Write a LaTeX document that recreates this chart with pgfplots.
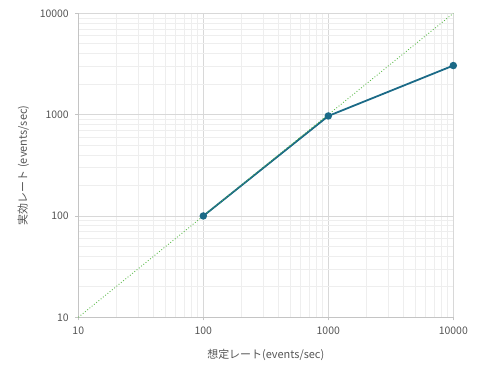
\documentclass[border=0pt]{standalone}
\usepackage{pgfplots}
\pgfplotsset{compat=1.18}
\usepackage{fontspec}
\setmainfont{Noto Sans CJK JP}
\definecolor{linec}{HTML}{1B6A87}
\definecolor{diagc}{HTML}{5DBB4C}
\definecolor{axc}{HTML}{C4C4C4}
\definecolor{majg}{HTML}{D8D8D8}
\definecolor{ming}{HTML}{EEEEEE}
\definecolor{txt}{HTML}{555555}
\begin{document}
\begin{tikzpicture}
\path[use as bounding box] (0,0) rectangle (480bp,376bp);
\begin{axis}[
  at={(78.3bp,58.7bp)}, anchor=south west,
  scale only axis, width=375bp, height=304bp,
  xmode=log, ymode=log,
  xmin=10, xmax=10000, ymin=10, ymax=10000,
  xtick={10,100,1000,10000}, ytick={10,100,1000,10000},
  xticklabels={10,100,1000,10000}, yticklabels={10,100,1000,10000},
  minor xtick={20,30,40,50,60,70,80,90,200,300,400,500,600,700,800,900,2000,3000,4000,5000,6000,7000,8000,9000},
  minor ytick={20,30,40,50,60,70,80,90,200,300,400,500,600,700,800,900,2000,3000,4000,5000,6000,7000,8000,9000},
  grid=both,
  major grid style={majg, line width=0.8pt},
  minor grid style={ming, line width=0.8pt},
  axis line style={axc, line width=0.8pt},
  every tick/.style={axc, line width=0.8pt},
  tick align=outside, major tick length=3bp, minor tick length=0pt,
  xtick pos=bottom, ytick pos=left,
  axis x line*=bottom, axis y line*=left,
  ticklabel style={font=\fontsize{10.5}{12}\selectfont, text=txt},
  xticklabel style={yshift=-3bp},
  yticklabel style={xshift=-3bp},
  xlabel={想定レート(events/sec)},
  ylabel={実効レート (events/sec)},
  label style={font=\fontsize{11}{13}\selectfont, text=txt},
  xlabel style={yshift=-8bp},
  ylabel style={yshift=4bp},
  clip=false,
]
\addplot[diagc, dotted, line width=0.9pt, forget plot] coordinates {(10,10) (10000,10000)};
\addplot[linec, line width=1.8pt, mark=*, mark size=2.8pt, mark options={fill=linec, draw=linec}] coordinates {(100,100) (1000,970) (10000,3050)};
\addplot[diagc, dotted, line width=0.7pt, forget plot] coordinates {(100,100) (1000,1000)};
\end{axis}
\end{tikzpicture}
\end{document}
